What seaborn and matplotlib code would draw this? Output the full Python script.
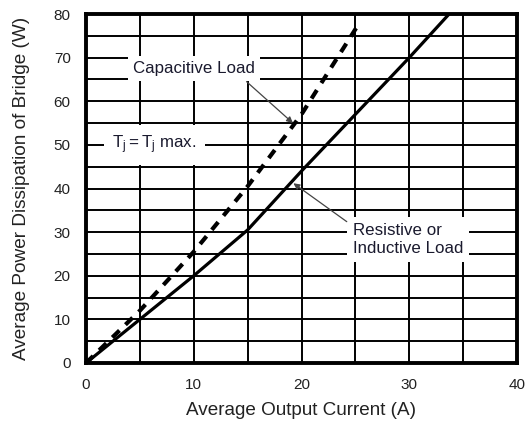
import numpy as np
import pandas as pd
import matplotlib
matplotlib.use("Agg")
import matplotlib.pyplot as plt
import seaborn as sns
from matplotlib.ticker import MultipleLocator

# ---- data ----
res_current = [0, 5, 10, 15, 20, 25, 30, 33.7]
res_power = [0, 10, 20, 30.5, 44, 57, 70, 80]
cap_current = [0, 2.5, 5, 10, 15, 20, 25, 25.5]
cap_power = [0, 6, 12, 25.5, 40.5, 57, 76.5, 78]

x_ticks = [0, 10, 20, 30, 40]
y_ticks = [0, 10, 20, 30, 40, 50, 60, 70, 80]

x_label = "Average Output Current (A)"
y_label = "Average Power Dissipation of Bridge (W)"

sns.set_style("white")
plt.rcParams["font.family"] = ["Liberation Sans", "DejaVu Sans"]
plt.rcParams["mathtext.fontset"] = "custom"
plt.rcParams["mathtext.rm"] = "Liberation Sans"
plt.rcParams["mathtext.it"] = "Liberation Sans"

fig = plt.figure(figsize=(5.28, 4.21), dpi=100)
ax = fig.add_axes([86 / 528, 1 - 363 / 421, (517 - 86) / 528, (363 - 14) / 421])

df_res = pd.DataFrame({"current": res_current, "power": res_power})
df_cap = pd.DataFrame({"current": cap_current, "power": cap_power})

sns.lineplot(data=df_res, x="current", y="power", ax=ax, color="black",
             lw=2.3, zorder=5, estimator=None)
sns.lineplot(data=df_cap, x="current", y="power", ax=ax, color="black",
             lw=3.0, linestyle=(0, (2.4, 2.0)), zorder=5, estimator=None)

ax.set_xlim(0, 40)
ax.set_ylim(0, 80)
ax.set_xticks(x_ticks)
ax.set_yticks(y_ticks)
ax.xaxis.set_minor_locator(MultipleLocator(5))
ax.yaxis.set_minor_locator(MultipleLocator(5))
ax.grid(True, which="both", color="black", lw=1.4)
ax.set_axisbelow(True)
ax.tick_params(which="both", length=0, labelsize=11, colors="#222222")
ax.tick_params(axis="y", pad=11)
ax.tick_params(axis="x", pad=10.5)
for s in ax.spines.values():
    s.set_visible(True)
    s.set_color("black")
    s.set_linewidth(2.8)

ax.set_xlabel(x_label, fontsize=13.6, color="#222222", labelpad=7.5)
ax.set_ylabel(y_label, fontsize=13.7, color="#222222", labelpad=17)

box = dict(boxstyle="square,pad=0.3", fc="white", ec="none")
arrow = dict(arrowstyle="-|>", color="#444444", lw=0.9, mutation_scale=9,
             shrinkA=0, shrinkB=0)

ax.text(10.0, 67.5, "Capacitive Load", fontsize=12.2, ha="center", va="center",
        color="#1a1a2e", bbox=box, zorder=3)
ax.annotate("", xy=(19.2, 55.0), xytext=(14.9, 64.5), arrowprops=arrow, zorder=6)

ax.text(6.36, 50.0, r"$\mathregular{T_j = T_j}$ max.", fontsize=12.2, ha="center",
        va="center", color="#1a1a2e",
        bbox=dict(boxstyle="square,pad=0.5", fc="white", ec="none"), zorder=3)

ax.text(29.9, 28.3, "Resistive or\nInductive Load", fontsize=12.2, ha="center",
        va="center", multialignment="left", color="#1a1a2e", linespacing=1.3,
        bbox=dict(boxstyle="square,pad=0.35", fc="white", ec="none"), zorder=3)
ax.annotate("", xy=(19.25, 41.2), xytext=(24.2, 32.4), arrowprops=arrow, zorder=6)

fig.savefig("out.png", dpi=100)
